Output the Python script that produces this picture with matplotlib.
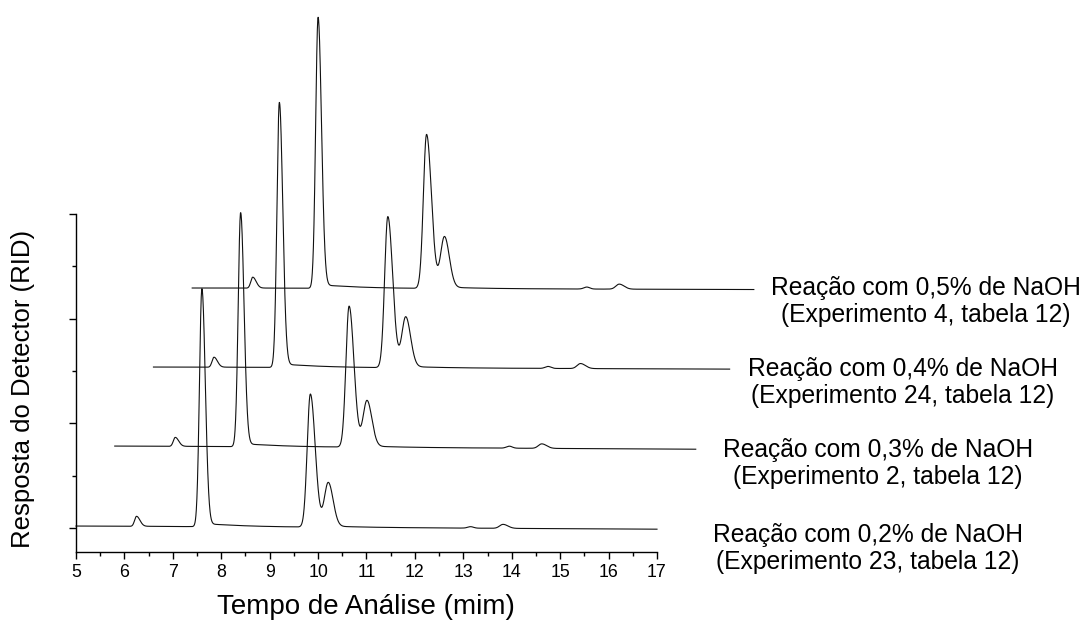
import numpy as np
import matplotlib
matplotlib.use('Agg')
import matplotlib.pyplot as plt
from matplotlib.ticker import MultipleLocator

plt.rcParams['font.family'] = ['Liberation Sans', 'DejaVu Sans']

peak_times = [6.25, 7.60, 9.84, 10.21, 13.15, 13.82]
sigma_left = [0.04, 0.05, 0.065, 0.08, 0.06, 0.07]
sigma_right = [0.07, 0.07, 0.10, 0.10, 0.06, 0.10]
tail_frac = [0.02, 0.015, 0.01, 0.01, 0.0, 0.0]

# alturas dos picos (unidades do eixo y) para cada reação
h_02 = [0.096, 2.274, 1.271, 0.420, 0.014, 0.038]
h_03 = [0.086, 2.236, 1.347, 0.439, 0.019, 0.043]
h_04 = [0.096, 2.532, 1.443, 0.478, 0.019, 0.048]
h_05 = [0.105, 2.589, 1.471, 0.487, 0.019, 0.048]

# deslocamentos das curvas (gráfico em cascata)
baselines = [0.019, 0.783, 1.538, 2.293]
x_offsets = [0.0, 0.8, 1.6, 2.4]
t_start = [5.0, 5.0, 5.0, 5.0]
t_end = [17.0, 17.0, 16.9, 16.6]
baseline_drop = [0.03, 0.03, 0.02, 0.015]

labels = [
    'Reação com 0,2% de NaOH\n(Experimento 23, tabela 12)',
    'Reação com 0,3% de NaOH\n(Experimento 2, tabela 12)',
    'Reação com 0,4% de NaOH\n(Experimento 24, tabela 12)',
    'Reação com 0,5% de NaOH\n(Experimento 4, tabela 12)',
]
# posição dos textos em pixels (esquerda, linha de base da 2a linha)
label_x = [713, 723, 748, 771]
label_y = [569, 484, 403, 322]

W, H = 1090, 624


def chromatogram(t, heights, base, drop):
    y = base - drop * (t - 5) / 12
    for t0, h, sl, sr, tf in zip(peak_times, heights, sigma_left, sigma_right, tail_frac):
        s = np.where(t < t0, sl, sr)
        y = y + h * np.exp(-0.5 * ((t - t0) / s) ** 2)
        if tf > 0:
            dt = np.clip(t - t0, 0, None)
            y = y + h * tf * np.exp(-dt / 0.8) * (1 - np.exp(-dt / 0.1))
    return y


fig = plt.figure(figsize=(W / 100, H / 100), dpi=100)
ax = fig.add_axes([76 / W, 1 - 552 / H, (657 - 76) / W, (552 - 214) / H])

for heights, base, dx, t0, t1, drop in zip([h_02, h_03, h_04, h_05], baselines,
                                            x_offsets, t_start, t_end, baseline_drop):
    t = np.linspace(t0, t1, 4000)
    ax.plot(t + dx, chromatogram(t, heights, base, drop), color='#111111',
            lw=0.8, clip_on=False)

ax.set_xlim(5, 17)
ax.set_ylim(-0.229, 3.0)
ax.xaxis.set_major_locator(MultipleLocator(1))
ax.xaxis.set_minor_locator(MultipleLocator(0.5))
ax.yaxis.set_major_locator(MultipleLocator(1))
ax.yaxis.set_minor_locator(MultipleLocator(0.5))
ax.set_yticklabels([])
ax.tick_params(which='major', direction='out', length=5, width=1.0, labelsize=12.8, pad=3.5)
ax.tick_params(which='minor', direction='out', length=3, width=1.0)
for side in ['top', 'right']:
    ax.spines[side].set_visible(False)
for side in ['left', 'bottom']:
    ax.spines[side].set_linewidth(1.0)

fig.text(366 / W, 1 - 607 / H, 'Tempo de Análise (mim)', ha='center', va='center', fontsize=20)
fig.text(23 / W, 1 - 389 / H, 'Resposta do Detector (RID)', ha='center', va='center',
         rotation=90, fontsize=18.5)

for txt, lx, ly in zip(labels, label_x, label_y):
    fig.text(lx / W, 1 - ly / H, txt, ha='left', va='baseline', multialignment='center',
             fontsize=17.7, linespacing=1.15)

fig.savefig('out.png', dpi=100)
